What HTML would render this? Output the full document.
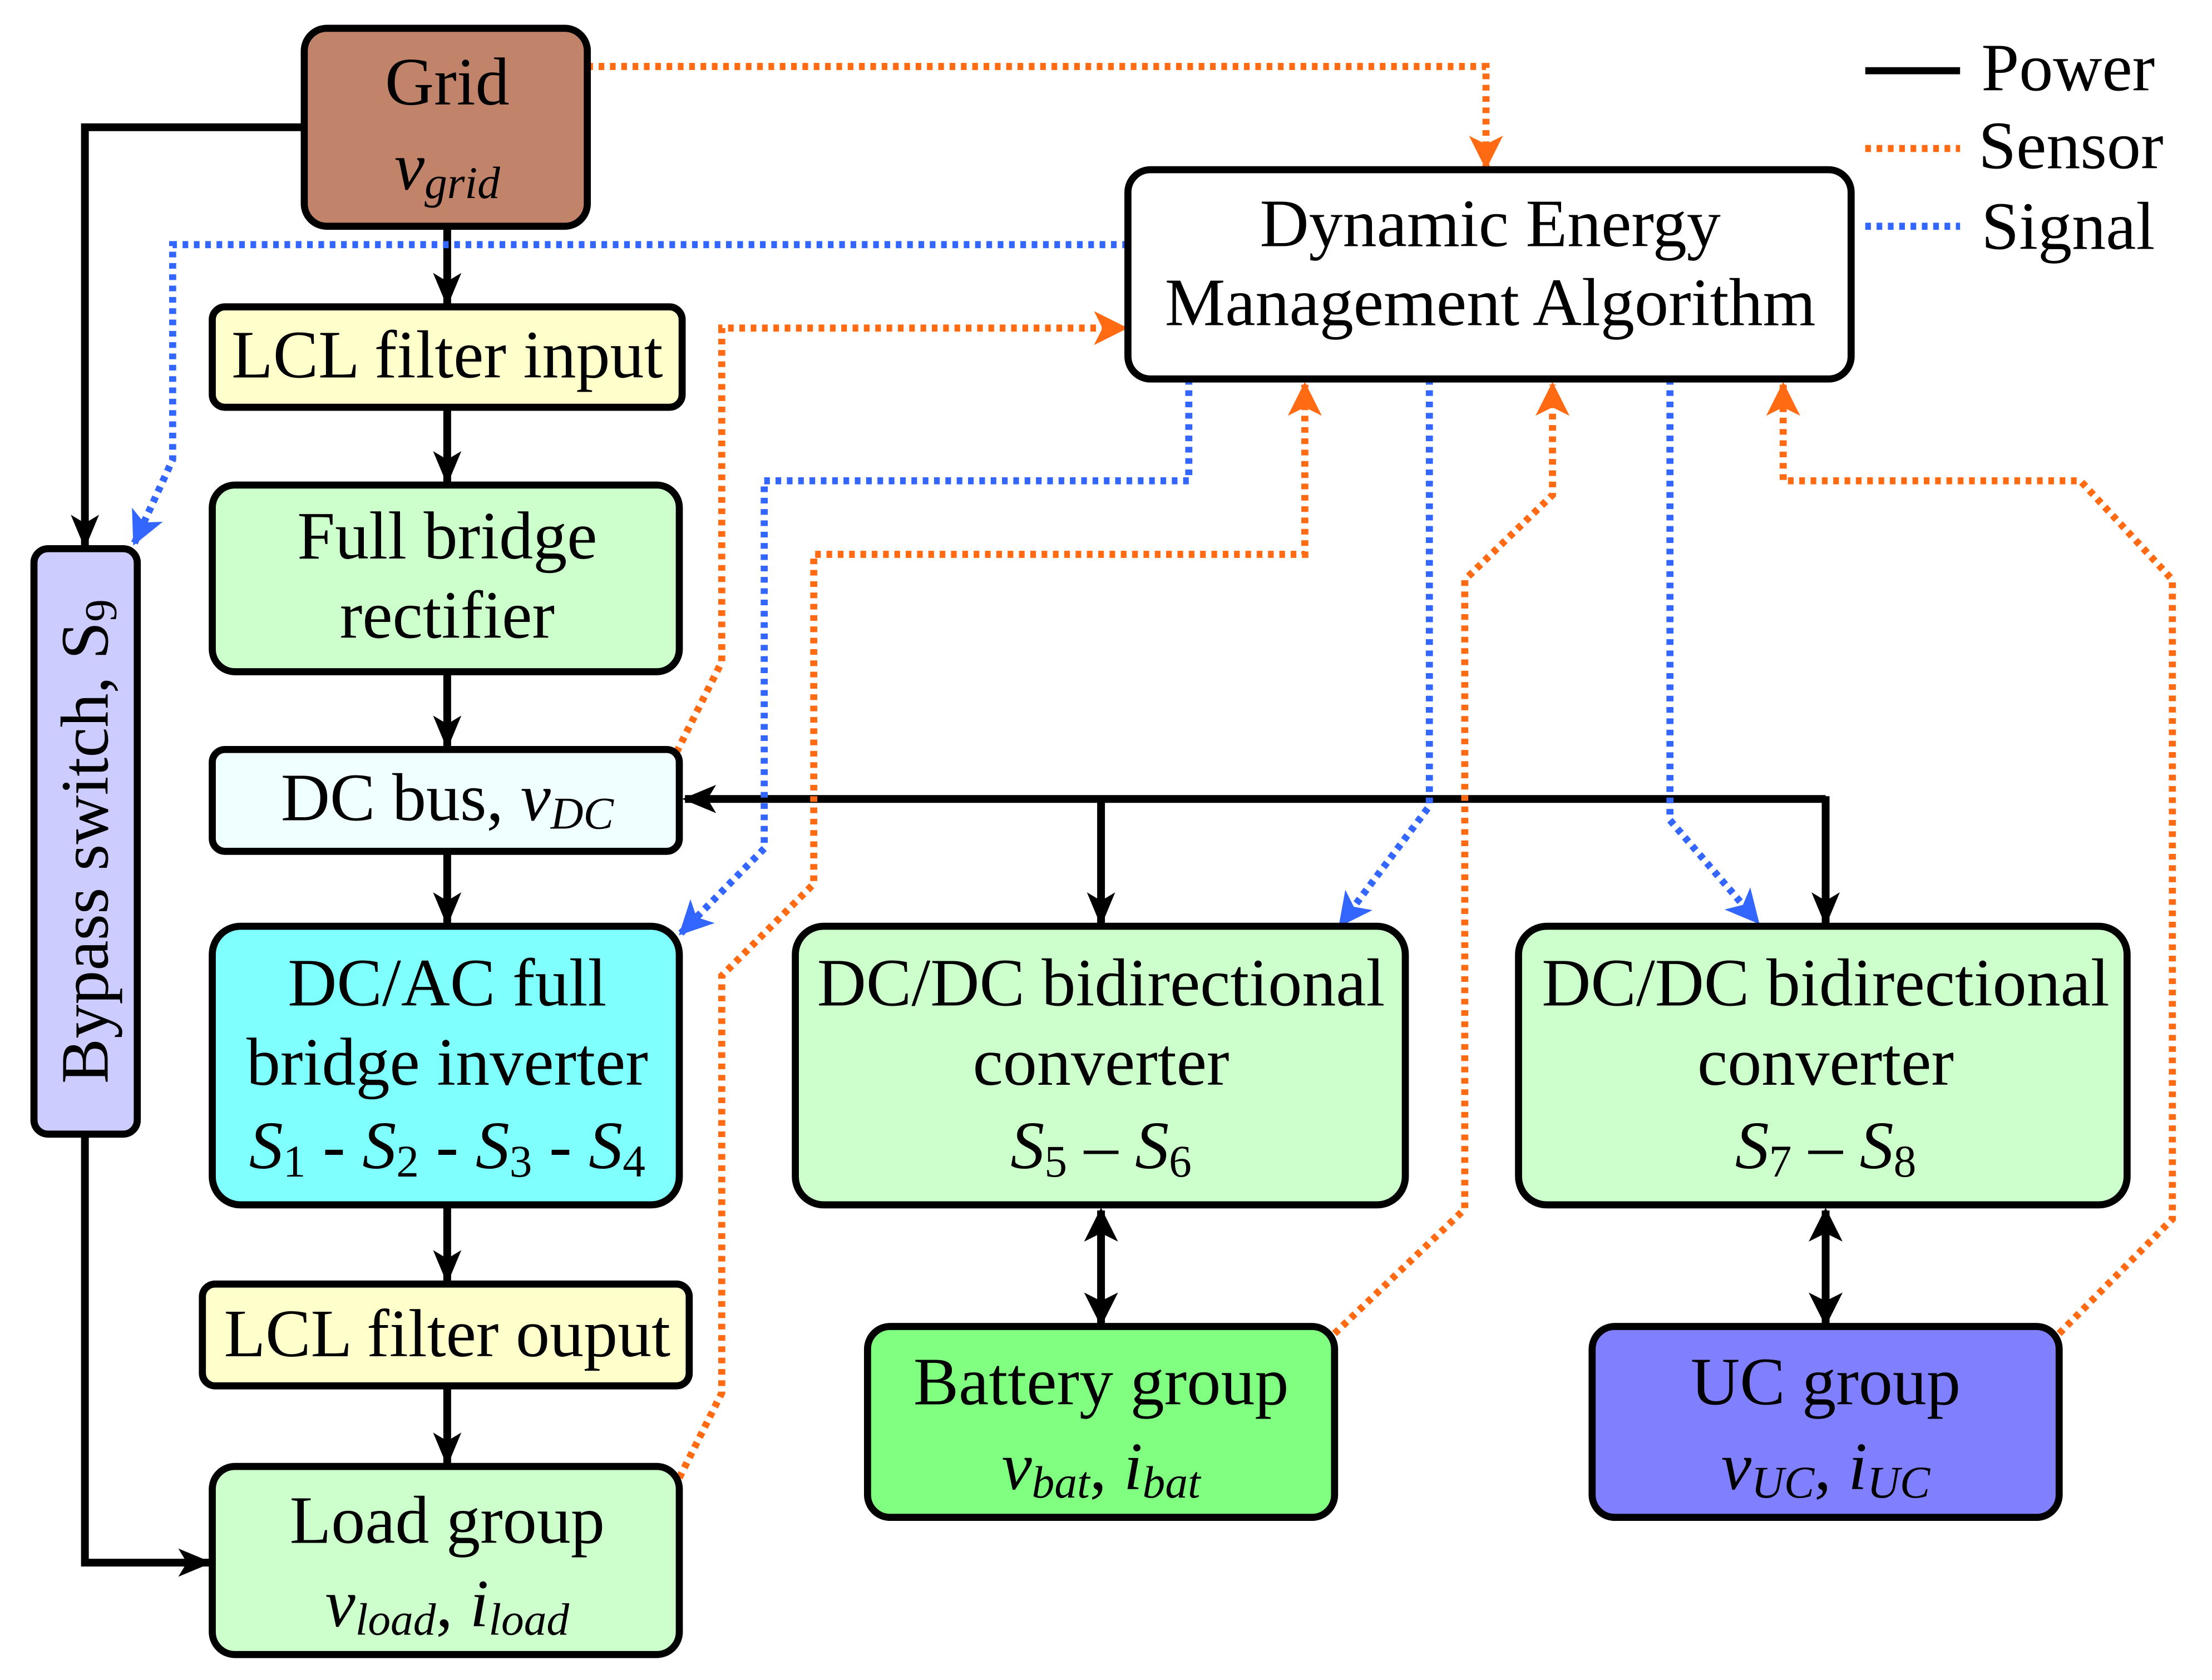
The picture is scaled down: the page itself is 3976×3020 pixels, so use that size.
<!DOCTYPE html>
<html><head><meta charset="utf-8"><style>
html,body{margin:0;padding:0;background:#fff;}
svg{display:block;}
text{font-family:"Liberation Serif",serif;font-size:48px;fill:#000;}
.i{font-style:italic;}
</style></head><body>
<svg width="3976" height="3020" viewBox="0 0 1563 1188" preserveAspectRatio="none" xmlns="http://www.w3.org/2000/svg">
<defs>
<marker id="ak" markerWidth="24" markerHeight="20" refX="22" refY="10" orient="auto" markerUnits="userSpaceOnUse" viewBox="0 0 24 20"><path d="M0,0 L24,10 L0,20 L6,10z" fill="#000"/></marker>
<marker id="akb" markerWidth="24" markerHeight="24" refX="22" refY="12" orient="auto-start-reverse" markerUnits="userSpaceOnUse" viewBox="0 0 24 24"><path d="M0,0 L24,12 L0,24 L6,12z" fill="#000"/></marker>
<marker id="ao" markerWidth="24" markerHeight="24" refX="22" refY="12" orient="auto" markerUnits="userSpaceOnUse" viewBox="0 0 24 24"><path d="M0,0 L24,12 L0,24 L6,12z" fill="#ff6a13"/></marker>
<marker id="ab" markerWidth="24" markerHeight="24" refX="22" refY="12" orient="auto" markerUnits="userSpaceOnUse" viewBox="0 0 24 24"><path d="M0,0 L24,12 L0,24 L6,12z" fill="#3366ff"/></marker>
</defs>
<g fill="none" stroke-width="5">
<g stroke="#000" stroke-width="5.5">
<path d="M215,90 H60 V386" marker-end="url(#ak)"/>
<path d="M316,160 V215" marker-end="url(#ak)"/>
<path d="M316,288 V341" marker-end="url(#ak)"/>
<path d="M316,475 V528" marker-end="url(#ak)"/>
<path d="M316,602 V653" marker-end="url(#ak)"/>
<path d="M316,852 V906" marker-end="url(#ak)"/>
<path d="M316,980 V1035" marker-end="url(#ak)"/>
<path d="M60,802 V1105 H148" marker-end="url(#ak)"/>
<path d="M1290,565 H484" marker-end="url(#ak)"/>
<path d="M778,565 V653" marker-end="url(#ak)"/>
<path d="M1290,563 V653" marker-end="url(#ak)"/>
<path d="M778,856 V936" marker-start="url(#akb)" marker-end="url(#akb)"/>
<path d="M1290,856 V936" marker-start="url(#akb)" marker-end="url(#akb)"/>
</g>
<g stroke="#ff6a13" stroke-dasharray="4 4">
<path d="M415,47 H1050 V118" marker-end="url(#ao)"/>
<path d="M478,532 L510,468 V232 H795" marker-end="url(#ao)"/>
<path d="M480,1045 L510,985 V690 L575,625 V392 H922 V272" marker-end="url(#ao)"/>
<path d="M943,943 L1035,855 V410 L1097,350 V272" marker-end="url(#ao)"/>
<path d="M1455,943 L1535,862 V410 L1470,340 H1260 V272" marker-end="url(#ao)"/>
</g>
<g stroke="#3366ff" stroke-dasharray="4 4">
<path d="M797,173 H122 V325 L95,384" marker-end="url(#ab)"/>
<path d="M840,268 V340 H540 V600 L481,660" marker-end="url(#ab)"/>
<path d="M1010,268 V570 L947,654" marker-end="url(#ab)"/>
<path d="M1180,268 V580 L1242,652" marker-end="url(#ab)"/>
</g>
<path d="M1318,50 H1385" stroke="#000"/>
<path d="M1318,105 H1385" stroke="#ff6a13" stroke-dasharray="4 4"/>
<path d="M1318,160 H1385" stroke="#3366ff" stroke-dasharray="4 4"/>
</g>
<text x="1400" y="64">Power</text>
<text x="1398" y="119">Sensor</text>
<text x="1400" y="176">Signal</text>
<g stroke="#000" stroke-width="5">
<rect x="215" y="20" width="200" height="140" rx="16" fill="#c1846a"/>
<rect x="797" y="120" width="511" height="148" rx="16" fill="#fff"/>
<rect x="150" y="217" width="332" height="71" rx="9" fill="#ffffcc"/>
<rect x="150" y="343" width="330" height="132" rx="16" fill="#ccffcc"/>
<rect x="150" y="530" width="330" height="72" rx="9" fill="#f0ffff"/>
<rect x="150" y="655" width="330" height="197" rx="20" fill="#80ffff"/>
<rect x="143" y="908" width="344" height="72" rx="9" fill="#ffffcc"/>
<rect x="150" y="1037" width="330" height="133" rx="16" fill="#ccffcc"/>
<rect x="24" y="388" width="73" height="414" rx="10" fill="#ccccff"/>
<rect x="562" y="655" width="431" height="197" rx="20" fill="#ccffcc"/>
<rect x="1073" y="655" width="430" height="197" rx="20" fill="#ccffcc"/>
<rect x="613" y="938" width="330" height="135" rx="16" fill="#80ff80"/>
<rect x="1125" y="938" width="330" height="135" rx="16" fill="#8080ff"/>
</g>
<g text-anchor="middle">
<text x="316" y="74">Grid</text>
<text x="316" y="134" class="i">v<tspan font-size="32" dy="6">grid</tspan></text>
<text x="1053" y="174">Dynamic Energy</text>
<text x="1053" y="230">Management Algorithm</text>
<text x="316" y="267">LCL filter input</text>
<text x="316" y="395">Full bridge</text>
<text x="316" y="451">rectifier</text>
<text x="316" y="580">DC bus, <tspan class="i">v</tspan><tspan class="i" font-size="32" dy="6">DC</tspan></text>
<text x="316" y="711">DC/AC full</text>
<text x="316" y="767">bridge inverter</text>
<text x="316" y="826" class="i">S<tspan font-size="32" dy="6" font-style="normal">1</tspan><tspan dy="-6" font-style="normal"> - </tspan>S<tspan font-size="32" dy="6" font-style="normal">2</tspan><tspan dy="-6" font-style="normal"> - </tspan>S<tspan font-size="32" dy="6" font-style="normal">3</tspan><tspan dy="-6" font-style="normal"> - </tspan>S<tspan font-size="32" dy="6" font-style="normal">4</tspan></text>
<text x="316" y="959">LCL filter ouput</text>
<text x="316" y="1091">Load group</text>
<text x="316" y="1150" class="i">v<tspan font-size="32" dy="6">load</tspan><tspan dy="-6" font-style="normal">, </tspan>i<tspan font-size="32" dy="6">load</tspan></text>
<text x="778" y="711">DC/DC bidirectional</text>
<text x="778" y="767">converter</text>
<text x="778" y="826" class="i">S<tspan font-size="32" dy="6" font-style="normal">5</tspan><tspan dy="-6" font-style="normal"> – </tspan>S<tspan font-size="32" dy="6" font-style="normal">6</tspan></text>
<text x="1290" y="711">DC/DC bidirectional</text>
<text x="1290" y="767">converter</text>
<text x="1290" y="826" class="i">S<tspan font-size="32" dy="6" font-style="normal">7</tspan><tspan dy="-6" font-style="normal"> – </tspan>S<tspan font-size="32" dy="6" font-style="normal">8</tspan></text>
<text x="778" y="993">Battery group</text>
<text x="778" y="1053" class="i">v<tspan font-size="32" dy="6">bat</tspan><tspan dy="-6" font-style="normal">, </tspan>i<tspan font-size="32" dy="6">bat</tspan></text>
<text x="1290" y="993">UC group</text>
<text x="1290" y="1053" class="i">v<tspan font-size="32" dy="6">UC</tspan><tspan dy="-6" font-style="normal">, </tspan>i<tspan font-size="32" dy="6">UC</tspan></text>
<text transform="translate(76,595) rotate(-90)">Bypass switch, S<tspan font-size="32" dy="6">9</tspan></text>
</g>
</svg>
</body></html>
